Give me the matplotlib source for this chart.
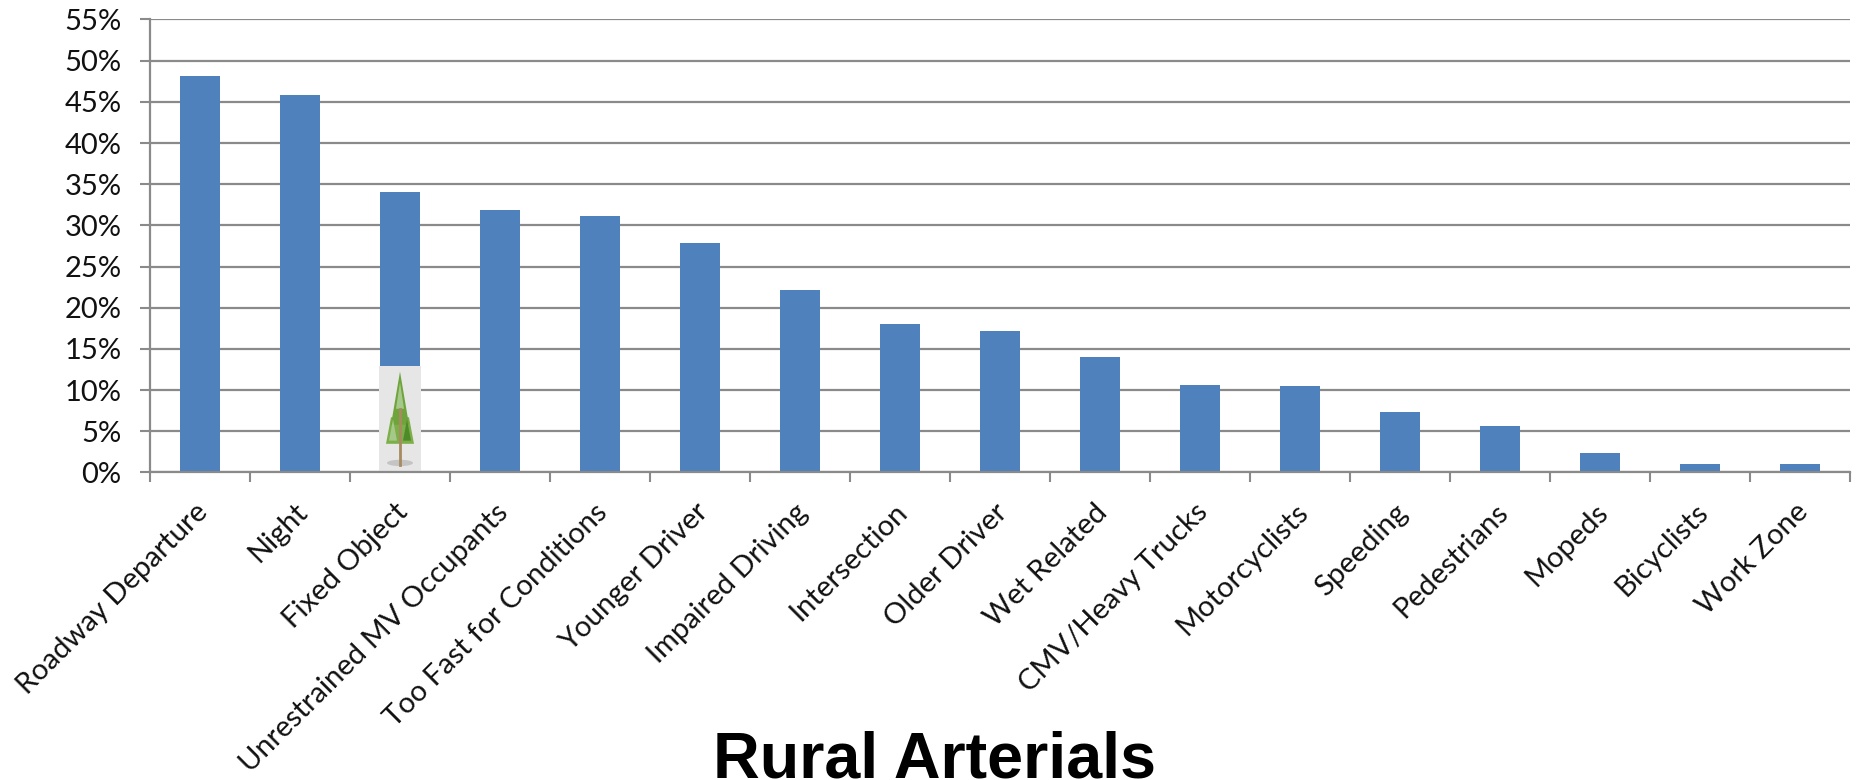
import numpy as np
import matplotlib
matplotlib.use("Agg")
import matplotlib.pyplot as plt
from matplotlib.patches import Rectangle, Ellipse

categories = ["Roadway Departure", "Night", "Fixed Object", "Unrestrained MV Occupants",
              "Too Fast for Conditions", "Younger Driver", "Impaired Driving", "Intersection",
              "Older Driver", "Wet Related", "CMV/Heavy Trucks", "Motorcyclists", "Speeding",
              "Pedestrians", "Mopeds", "Bicyclists", "Work Zone"]
values = [48.1, 45.8, 34.0, 31.9, 31.1, 27.9, 22.2, 18.0, 17.2, 14.0, 10.6, 10.5, 7.4, 5.7, 2.4, 1.0, 1.0]
yticks = list(range(0, 60, 5))
title = "Rural Arterials"
tree_category = "Fixed Object"
tree_height = 12.9

W, H = 1864, 780
fig = plt.figure(figsize=(W/100, H/100), dpi=100, facecolor="white")
L, R, T, B = 150, 1850, 19.5, 472.5
ax = fig.add_axes([L/W, 1-B/H, (R-L)/W, (B-T)/H])
grey = "#8A8A8A"
x = np.arange(len(categories))
ax.bar(x, values, width=0.4, color="#4F81BD", zorder=3)
ax.set_xlim(-0.5, len(categories)-0.5)
ax.set_ylim(0, 55)
ax.set_yticks(yticks)
ax.set_yticklabels([f"{v}%" for v in yticks], fontsize=21, family="Lato", color="#111111")
ax.set_xticks(np.arange(len(categories)+1)-0.5)
ax.set_xticklabels([""]*(len(categories)+1))
ax.tick_params(axis="x", length=7.5, width=1.5, color=grey)
ax.tick_params(axis="y", length=7.5, width=1.5, color=grey, pad=13)
ax.grid(axis="y", color=grey, lw=1.6, zorder=1)
for s in ["top", "right"]:
    ax.spines[s].set_visible(False)
for s in ["left", "bottom"]:
    ax.spines[s].set_color(grey)
    ax.spines[s].set_linewidth(1.6)
    ax.spines[s].set_zorder(5)

for xi, c in zip(x, categories):
    ax.annotate(c, (xi, 0), xytext=(-4, -19), textcoords="offset points", rotation=45,
                ha="right", va="top", rotation_mode="anchor", fontsize=21, family="Lato",
                color="#111111", annotation_clip=False)

# tree picture at the foot of the bar
i = categories.index(tree_category)
h = tree_height
ax.add_patch(Rectangle((i-0.21, 0), 0.42, h, color="#E6E6E6", lw=0, zorder=4))
ax.add_patch(Ellipse((i, h*0.09), 0.26, h*0.06, color="#C4C4C4", lw=0, zorder=4.1))
ax.fill([i-0.14, i-0.09, i+0.09, i+0.14], [h*0.27, h*0.52, h*0.52, h*0.27], color="#7DAF48", lw=0, zorder=4.2)
ax.fill([i-0.09, i, i+0.09], [h*0.45, h*0.95, h*0.45], color="#6FA33C", lw=0, zorder=4.25)
ax.fill([i-0.04, i, i+0.04], [h*0.6, h*0.85, h*0.6], color="#A5C98A", lw=0, zorder=4.3)
ax.fill([i-0.11, i-0.03, i-0.07], [h*0.3, h*0.3, h*0.5], color="#A5C98A", lw=0, zorder=4.3)
ax.fill([i+0.03, i+0.11, i+0.07], [h*0.3, h*0.3, h*0.5], color="#4F8A2A", lw=0, zorder=4.3)
ax.plot([i, i], [h*0.07, h*0.6], color="#A88A60", lw=2, zorder=4.4)

fig.text(934.5/W, 1-778/H, title, ha="center", va="baseline", fontsize=46.5, fontweight="bold",
         family="Liberation Sans", color="black")
fig.savefig("out.png", dpi=100)
